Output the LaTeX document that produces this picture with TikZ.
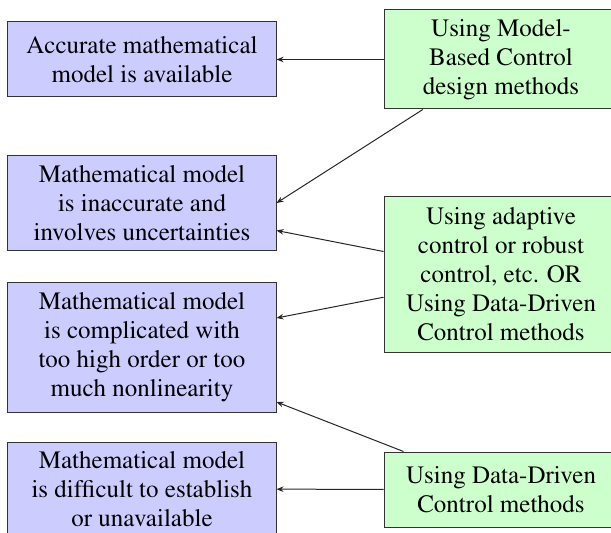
\documentclass[tikz,border=0pt]{standalone}
\usepackage[T1]{fontenc}
\usepackage{times}
\usetikzlibrary{arrows.meta,calc}
\begin{document}
\begin{tikzpicture}[x=0.4pt,y=-0.4pt,
  box/.style={draw=black!80, line width=0.4pt, align=center, inner sep=0pt, font=\rmfamily\fontsize{10}{11.6}\selectfont},
  leftbox/.style={box, fill=blue!20, minimum width=107.2pt},
  rightbox/.style={box, fill=green!20, minimum width=93.6pt},
  conn/.style={draw=black!85, line width=0.4pt, -{Stealth[length=2.8pt,width=2.2pt]}}]
\useasboundingbox (0,0) rectangle (611,532);
\node[leftbox, minimum height=30pt] (A) at (142,59.5) {Accurate mathematical\\model is available};
\node[leftbox, minimum height=38pt] (B) at (142,203) {Mathematical model\\is inaccurate and\\involves uncertainties};
\node[leftbox, minimum height=52pt] (C) at (142,347) {Mathematical model\\is complicated with\\too high order or too\\much nonlinearity};
\node[leftbox, minimum height=37.6pt] (D) at (142,489) {Mathematical model\\is difficult to establish\\or unavailable};
\node[rightbox, minimum height=39.6pt] (R1) at (501,59.5) {Using Model-\\Based Control\\design methods};
\node[rightbox, minimum height=62pt] (R2) at (501,274.5) {Using adaptive\\control or robust\\control, etc. OR\\Using Data-Driven\\Control methods};
\node[rightbox, minimum height=30pt] (R3) at (501,489.5) {Using Data-Driven\\Control methods};
\coordinate (Bb) at ($(B.east)+(0,27.5)$);
\coordinate (Ct) at ($(C.east)+(0,-29)$);
\coordinate (Cb) at ($(C.east)+(0,55)$);
\draw[conn] (R1) -- (A);
\draw[conn] (R1) -- (B.east);
\draw[conn] (R2) -- (Bb);
\draw[conn] (R2) -- (Ct);
\draw[conn] (R3) -- (Cb);
\draw[conn] (R3) -- (D);
\end{tikzpicture}
\end{document}
